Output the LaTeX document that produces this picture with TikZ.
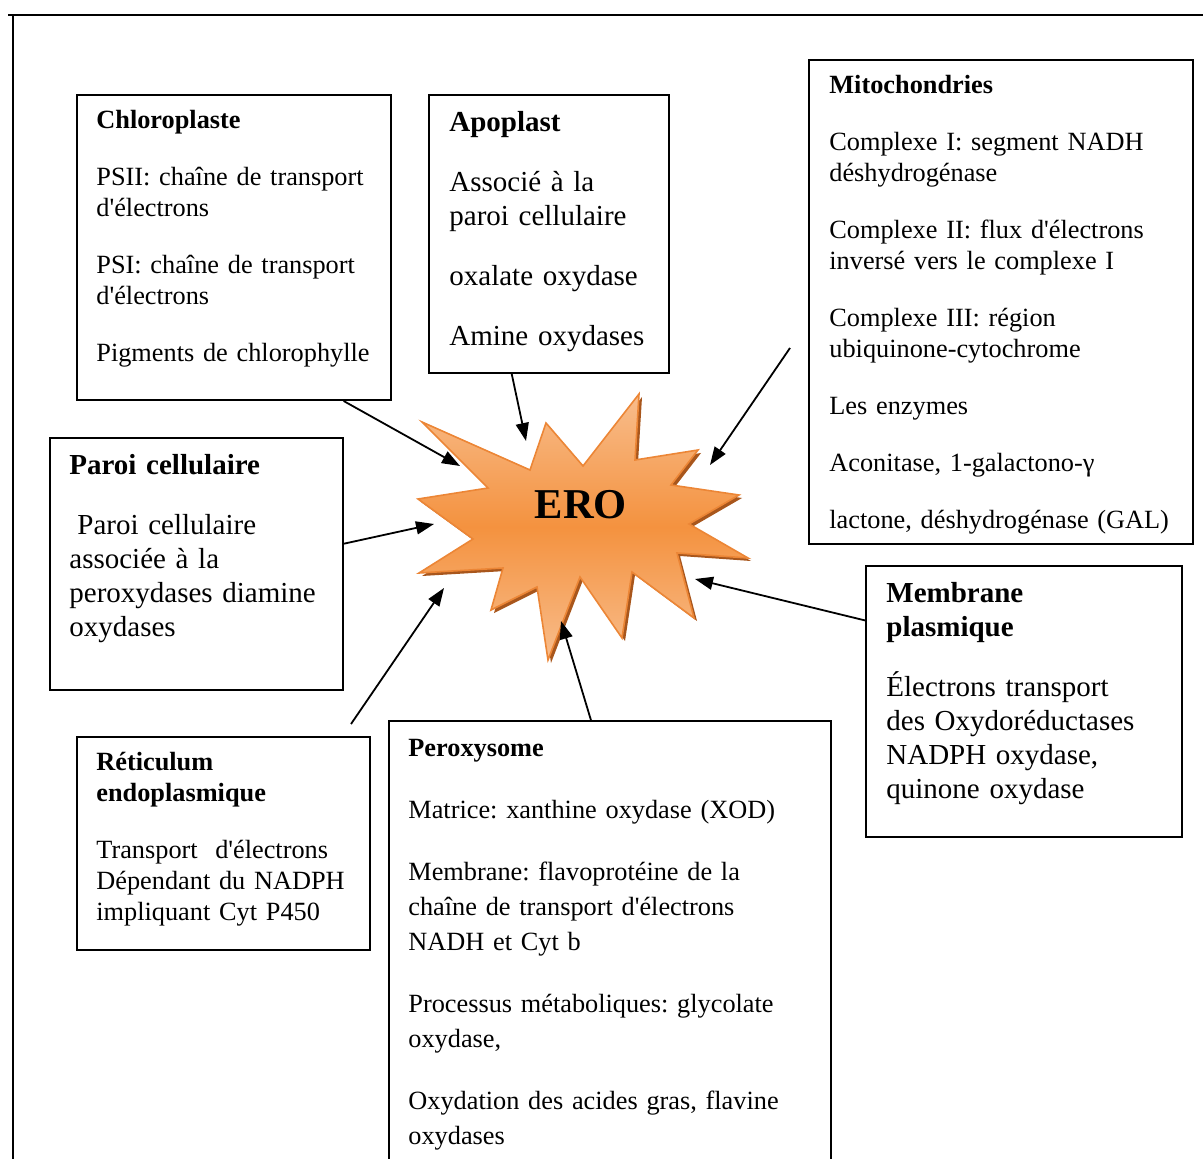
\documentclass[tikz,border=0pt]{standalone}
\usepackage{fontspec}
\setmainfont{Liberation Serif}[Ligatures=TeXOff]
\usepackage{tikz}
\usetikzlibrary{arrows.meta,calc}
\definecolor{EROlight}{HTML}{F8BD8C}
\definecolor{EROmid}{HTML}{F4923F}
\definecolor{EROedge}{HTML}{EC8636}
\definecolor{EROshadow}{HTML}{A8561C}
\newcommand\sznorm{\fontsize{13.15}{15.5}\selectfont}
\newcommand\szbig{\fontsize{14.5}{17}\selectfont}
\newcommand\szpero{\fontsize{13.15}{17.5}\selectfont}
\newcommand\szero{\fontsize{21.25}{25}\selectfont\bfseries}
\frenchspacing

\begin{document}
\begin{tikzpicture}[x=0.5pt,y=-0.5pt]

%% ── helpers ───────────────────────────────────────────────
\tikzset{
  box/.style={draw,line width=1pt,inner sep=0pt,anchor=north west},
  txt/.style={anchor=base west,inner sep=0pt,align=left,text width=9cm,font=#1},
  arr/.style={-{Triangle[length=9pt,width=6.5pt]},line width=0.9pt},
}
\clip (0,0) rectangle (1203,1159);

%% ── page frame ───────────────────────────────────────────
\draw[line width=1pt] (8,15) -- (1210,15);
\draw[line width=1pt] (13,15) -- (13,1170);

%% ── ERO star (shadow, then shaded body) ──────────────────
\fill[EROshadow,shift={(3,3)}]
  (422,422) -- (530,470) -- (546,423) -- (583,466) -- (639,394) -- (635,460)
  -- (698,450) -- (671,485) -- (739,495) -- (689,524) -- (748,558) -- (677,553)
  -- (694,618) -- (632,572) -- (622,638) -- (580,577) -- (548,660) -- (537,587)
  -- (491,610) -- (503,568) -- (419,573) -- (473,539) -- (418,499) -- (488,488) -- cycle;
\shadedraw[draw=EROedge,line width=0.8pt,top color=EROlight,bottom color=EROlight,middle color=EROmid]
  (422,422) -- (530,470) -- (546,423) -- (583,466) -- (639,394) -- (635,460)
  -- (698,450) -- (671,485) -- (739,495) -- (689,524) -- (748,558) -- (677,553)
  -- (694,618) -- (632,572) -- (622,638) -- (580,577) -- (548,660) -- (537,587)
  -- (491,610) -- (503,568) -- (419,573) -- (473,539) -- (418,499) -- (488,488) -- cycle;
\node[font=\szero,inner sep=0pt] (ero) at (581,505) {ERO};

%% ── boxes ────────────────────────────────────────────────
\node[box,minimum width=157pt,minimum height=152.5pt] (chl) at (76,94) {};
\node[box,minimum width=120pt,minimum height=139pt]   (apo) at (428,94) {};
\node[box,minimum width=192pt,minimum height=242pt]   (mit) at (808,59) {};
\node[box,minimum width=146.5pt,minimum height=126pt] (par) at (49,437) {};
\node[box,minimum width=158pt,minimum height=135.5pt] (mem) at (865,565) {};
\node[box,minimum width=146.5pt,minimum height=106.5pt] (ret) at (76,736) {};
\node[box,minimum width=221pt,minimum height=240pt]   (per) at (388,720) {};

%% ── box texts ────────────────────────────────────────────
\node[txt=\sznorm] (chlT) at (96,129) {\textbf{Chloroplaste}\\[13pt]
  PSII: chaîne de transport\\ d'électrons\\[13pt]
  PSI: chaîne de transport\\ d'électrons\\[13pt]
  Pigments de chlorophylle};

\node[txt=\szbig] (apoT) at (449,131.5) {\textbf{Apoplast}\\[13pt]
  Associé à la\\ paroi cellulaire\\[13pt]
  oxalate oxydase\\[13pt]
  Amine oxydases};

\node[txt=\sznorm] (mitT) at (829,93.5) {\textbf{Mitochondries}\\[13pt]
  Complexe I: segment NADH\\ déshydrogénase\\[13pt]
  Complexe II: flux d'électrons\\ inversé vers le complexe I\\[13pt]
  Complexe III: région\\ ubiquinone-cytochrome\\[13pt]
  Les enzymes\\[13pt]
  Aconitase, 1-galactono-γ\\[13pt]
  lactone, déshydrogénase (GAL)};

\node[txt=\szbig] (parT) at (69,474.5) {\textbf{Paroi cellulaire}\\[13pt]
  \hspace*{4pt}Paroi cellulaire\\ associée à la\\
  peroxydases diamine\\ oxydases};

\node[txt=\szbig] (memT) at (886,602.5) {\textbf{Membrane}\\ \textbf{plasmique}\\[13pt]
  Électrons transport\\ des Oxydoréductases\\
  NADPH oxydase,\\ quinone oxydase};

\node[txt=\sznorm] (retT) at (96,770.5) {\textbf{Réticulum}\\ \textbf{endoplasmique}\\[13pt]
  Transport\ \ d'électrons\\ Dépendant du NADPH\\
  impliquant Cyt P450};

\node[txt=\szpero] (perT) at (408,756.5) {\textbf{Peroxysome}\\[13.5pt]
  Matrice: xanthine oxydase (XOD)\\[13.5pt]
  Membrane: flavoprotéine de la\\ chaîne de transport d'électrons\\
  NADH et Cyt b\\[13.5pt]
  Processus métaboliques: glycolate\\ oxydase,\\[13.5pt]
  Oxydation des acides gras, flavine\\ oxydases};

%% ── arrows to ERO ────────────────────────────────────────
\coordinate (chlTip) at (460,466);
\coordinate (apoTip) at (526,441);
\coordinate (mitTip) at (710,465);
\coordinate (mitEnd) at (790,348);
\coordinate (parTip) at (434,524);
\coordinate (memTip) at (695,579);
\coordinate (retTip) at (444,588);
\coordinate (retEnd) at (351,724);
\coordinate (perTip) at (561,621);

\draw[arr] ($(chl.south west)!0.847!(chl.south east)$) -- (chlTip);
\draw[arr] ($(apo.south west)!0.346!(apo.south east)$) -- (apoTip);
\draw[arr] (mitEnd) -- (mitTip);
\draw[arr] ($(par.north east)!0.42!(par.south east)$) -- (parTip);
\draw[arr] ($(mem.north west)!0.203!(mem.south west)$) -- (memTip);
\draw[arr] (retEnd) -- (retTip);
\draw[arr] ($(per.north west)!0.457!(per.north east)$) -- (perTip);

\end{tikzpicture}
\end{document}
